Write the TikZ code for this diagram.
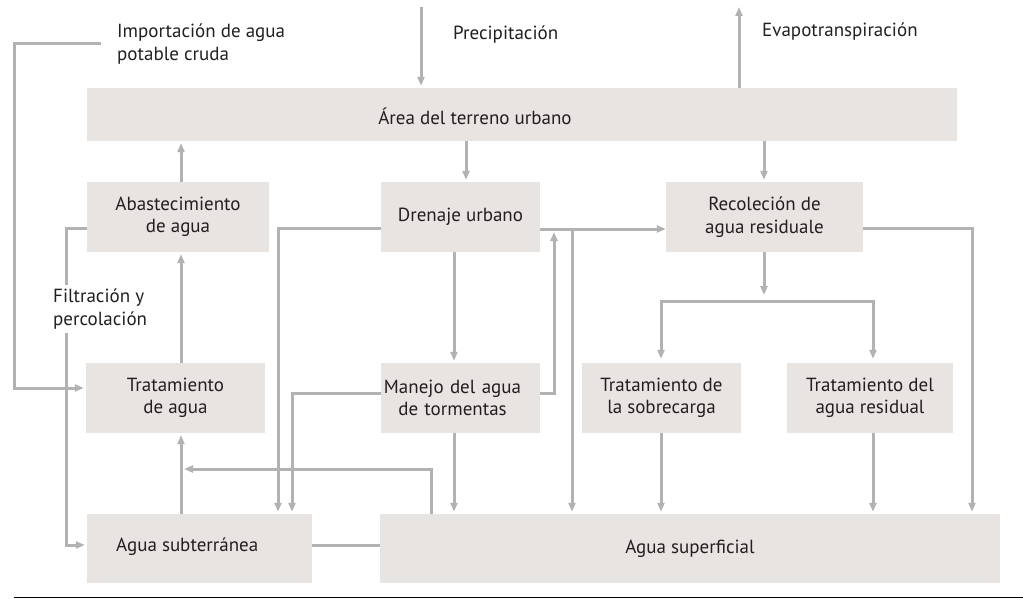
\documentclass[tikz,border=0pt]{standalone}
\usepackage{fontspec}
\setmainfont{PT Sans}
\usetikzlibrary{arrows.meta}
\definecolor{boxfill}{RGB}{232,228,225}
\definecolor{linegray}{RGB}{178,178,178}
\definecolor{txt}{RGB}{35,31,32}
\begin{document}
\begin{tikzpicture}[x=1pt,y=-1pt,
  every node/.style={text=txt, font=\fontsize{19}{22.5}\selectfont},
  box/.style={fill=boxfill, inner sep=0pt, align=center},
  lbl/.style={inner sep=0pt, align=left},
  conn/.style={draw=linegray, line width=3pt},
  arr/.style={conn, -{Triangle[length=9pt,width=7pt]}, shorten >=2pt},
  arrs/.style={conn, {Triangle[length=9pt,width=7pt]}-{Triangle[length=9pt,width=7pt]}, shorten >=2pt, shorten <=2pt}]
\useasboundingbox (0,0) rectangle (1023,599);
% boxes
\node[box, minimum width=870pt, minimum height=53pt] (area) at (522,114.5) {};
\node[lbl, anchor=center] (areat) at (475,116) {Área del terreno urbano};
\node[box, minimum width=182pt, minimum height=70pt] (abast) at (178,217) {Abastecimiento\\de agua};
\node[box, minimum width=159pt, minimum height=70pt] (dren) at (460.5,217) {Drenaje urbano};
\node[box, minimum width=197pt, minimum height=70pt] (recol) at (764.5,217) {Recoleción de\\agua residuale};
\node[box, minimum width=179pt, minimum height=70pt] (trat) at (175.5,398) {Tratamiento\\de agua};
\node[box, minimum width=159pt, minimum height=70pt, text width=159pt] (manejo) at (460.5,398) {\centering\hspace*{-16pt}Manejo del agua\\\hspace*{-16pt}de tormentas};
\node[box, minimum width=159pt, minimum height=70pt] (sobre) at (661.5,398) {Tratamiento de\\la sobrecarga};
\node[box, minimum width=166pt, minimum height=70pt] (tres) at (870,398) {Tratamiento del\\agua residual};
\node[box, minimum width=225pt, minimum height=69pt] (subt) at (199.5,548.5) {};
\node[lbl, anchor=west] (subtt) at (116,547) {Agua subterránea};
\node[box, minimum width=620pt, minimum height=69pt] (sup) at (690,548.5) {Agua superficial};
% free labels
\node[lbl, anchor=west] (imp) at (117,44) {Importación de agua\\potable cruda};
\node[lbl, anchor=west] (prec) at (453,35) {Precipitación};
\node[lbl, anchor=west] (evap) at (762,32) {Evapotranspiración};
\node[lbl, anchor=west, inner ysep=4pt] (filt) at (53,309) {Filtración y\\percolación};
% free ends
\coordinate (impS) at (101,44);
\coordinate (precT) at (421,7);
\coordinate (evapT) at (739,7);
% connectors
\draw[arr] (impS) -- (14,44) -- (14,388) -- (trat.west |- 0,388);
\draw[arr] (precT) -- (421,0 |- area.north);
\draw[arr, shorten >=0pt] (739,0 |- area.north) -- (evapT);
\draw[arr] (466,0 |- area.south) -- (466,0 |- dren.north);
\draw[arr] (764,0 |- area.south) -- (764,0 |- recol.north);
\draw[arr] (181,0 |- abast.north) -- (181,0 |- area.south);
\draw[arr] (181,0 |- trat.north) -- (181,0 |- abast.south);
\draw[conn] (abast.west |- 0,228) -- (66,228) -- (66,0 |- filt.north);
\draw[arr] (66,0 |- filt.south) -- (66,545) -- (subt.west |- 0,545);
\draw[arr] (dren.west |- 0,228) -- (278,228) -- (278,0 |- subt.north);
\draw[arr] (manejo.west |- 0,393) -- (292,393) -- (292,0 |- subt.north);
\draw[arr, shorten >=0pt] (431,0 |- sup.north) -- (431,469) -- (184,469);
\draw[arr] (181,0 |- subt.north) -- (181,0 |- trat.south);
\draw[conn] (subt.east |- 0,545) -- (sup.west |- 0,545);
\draw[arr] (454,0 |- dren.south) -- (454,0 |- manejo.north);
\draw[arr, shorten >=0pt] (manejo.east |- 0,393) -- (554,393) -- (554,232);
\draw[arr, shorten >=0pt] (dren.east |- 0,229) -- (recol.west |- 0,229);
\draw[arr] (572,229) -- (572,0 |- sup.north);
\draw[arr] (454,0 |- manejo.south) -- (454,0 |- sup.north);
\draw[arr, shorten >=0pt] (764,0 |- recol.south) -- (764,295);
\draw[arrs, shorten <=4pt, shorten >=4pt] (661,0 |- sobre.north) -- (661,301) -- (873,301) -- (873,0 |- tres.north);
\draw[arr] (661,0 |- sobre.south) -- (661,0 |- sup.north);
\draw[arr] (873,0 |- tres.south) -- (873,0 |- sup.north);
\draw[arr] (recol.east |- 0,228) -- (972,228) -- (972,0 |- sup.north);
% bottom rule
\draw[black, line width=1pt] (14,597.5) -- (1023,597.5);
\end{tikzpicture}
\end{document}
